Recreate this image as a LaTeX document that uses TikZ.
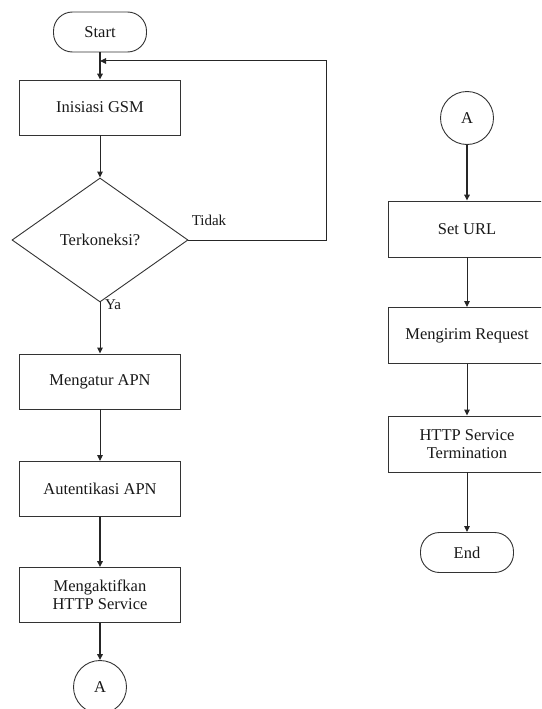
\documentclass[tikz,border=0pt]{standalone}
\usepackage{fontspec}
\setmainfont{Liberation Serif}
\usetikzlibrary{shapes.geometric,arrows.meta}
\begin{document}
\begin{tikzpicture}[x=1pt,y=-1pt,
  every node/.style={font=\fontsize{16.5}{18}\selectfont, text=black!90},
  proc/.style={draw=black!80, line width=0.9pt, minimum width=161pt, minimum height=55pt, inner sep=0pt, align=center},
  procr/.style={proc, minimum width=158pt, minimum height=56pt},
  term/.style={draw=black!80, line width=0.9pt, rounded corners=19pt, minimum width=93pt, minimum height=40pt, inner sep=0pt},
  conn/.style={draw=black!80, line width=0.9pt, circle, minimum size=53pt, inner sep=0pt},
  dec/.style={draw=black!80, line width=0.9pt, diamond, aspect=1.42, minimum width=176pt, minimum height=124pt, inner sep=0pt},
  arr/.style={draw=black!85, line width=1pt, -{Triangle[length=6pt,width=5.5pt]}},
  tarr/.style={arr, line width=1.7pt},
  lbl/.style={font=\fontsize{15}{17}\selectfont}
]
\useasboundingbox (0,0) rectangle (541,709);
\clip (0,0) rectangle (541,709);
\fill[white] (0,0) rectangle (541,709);
% left column
\node[term] (start) at (100,32) {Start};
\node[proc] (gsm) at (100,107.5) {Inisiasi GSM};
\node[dec] (cek) at (100,240) {Terkoneksi?};
\node[proc] (apn) at (100,381.5) {Mengatur APN};
\node[proc] (aut) at (100,489) {Autentikasi APN};
\node[proc] (http) at (100,595) {Mengaktifkan\\HTTP Service};
\node[conn] (a1) at (100,687) {A};
% right column
\node[conn] (a2) at (467,118) {A};
\node[procr] (url) at (467,229) {Set URL};
\node[procr] (req) at (467,335.5) {Mengirim Request};
\node[procr] (term) at (467,444) {HTTP Service\\Termination};
\node[term] (end) at (467,552.5) {End};
% loop point
\coordinate (lp) at (100,61);
\coordinate (lc) at (326,61);
% connectors
\draw[tarr] (start) -- (gsm);
\draw[arr] (gsm) -- (cek);
\draw[arr] (cek.south) -- (apn);
\node[lbl] (ya) at (113,305) {Ya};
\draw[arr] (apn) -- (aut);
\draw[tarr] (aut) -- (http);
\draw[tarr] (http) -- (a1);
\draw[arr] (cek.east) -- (cek.east -| lc) -- (lc) -- (lp);
\node[lbl] (tidak) at (209,220) {Tidak};
\draw[tarr] (a2) -- (url);
\draw[arr] (url) -- (req);
\draw[arr] (req) -- (term);
\draw[arr] (term) -- (end);
\end{tikzpicture}
\end{document}
